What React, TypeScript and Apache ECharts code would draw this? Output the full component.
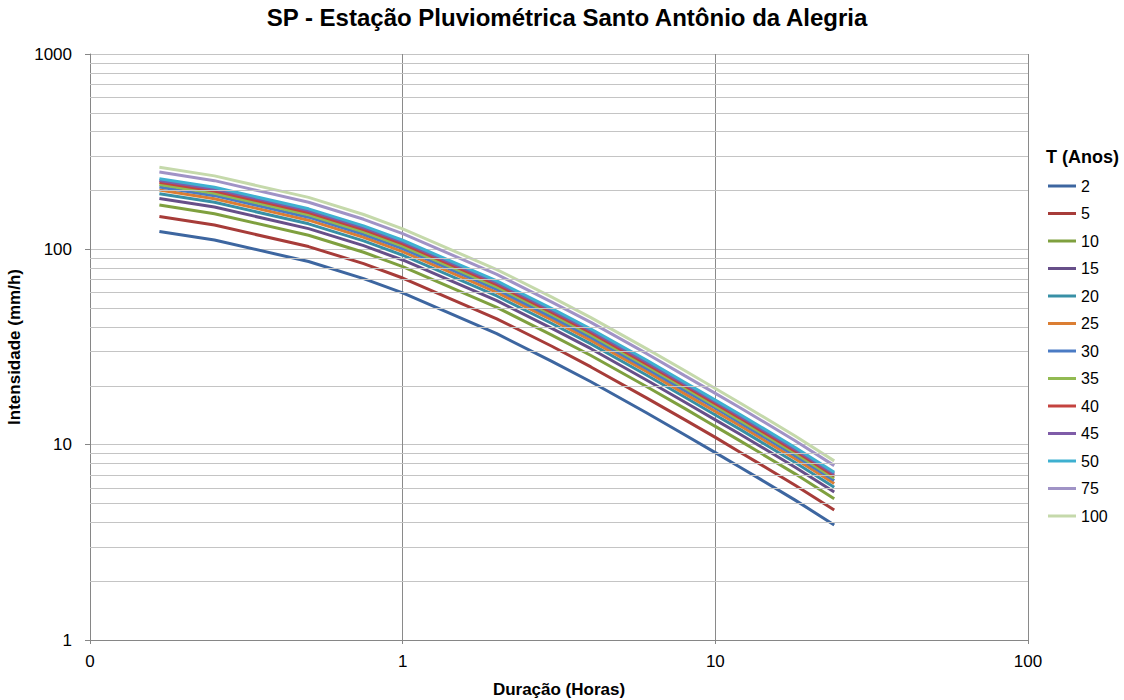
import React, { useEffect, useRef } from "react";
import * as echarts from "echarts";

// Durations (hours)
const durations = [0.1667, 0.25, 0.5, 0.75, 1, 2, 3, 4, 6, 8, 10, 12, 14, 18, 24];

// Intensities (mm/h) per return period T (years)
const t2 = [123.5, 111.6, 86.6, 70.8, 59.8, 37.0, 26.7, 21.0, 14.6, 11.2, 9.1, 7.67, 6.62, 5.2, 3.88];
const t5 = [147.3, 133.1, 103.3, 84.5, 71.3, 44.1, 31.9, 25.0, 17.4, 13.4, 10.9, 9.15, 7.9, 6.2, 4.63];
const t10 = [168.5, 152.2, 118.1, 96.6, 81.6, 50.5, 36.4, 28.6, 19.9, 15.3, 12.4, 10.46, 9.03, 7.09, 5.29];
const t15 = [182.2, 164.6, 127.7, 104.4, 88.2, 54.6, 39.4, 31.0, 21.5, 16.5, 13.4, 11.31, 9.76, 7.67, 5.72];
const t20 = [192.7, 174.1, 135.1, 110.4, 93.3, 57.7, 41.7, 32.8, 22.8, 17.5, 14.2, 11.97, 10.33, 8.11, 6.05];
const t25 = [201.1, 181.7, 141.0, 115.3, 97.4, 60.2, 43.5, 34.2, 23.8, 18.2, 14.8, 12.49, 10.78, 8.47, 6.32];
const t30 = [208.3, 188.3, 146.1, 119.4, 100.9, 62.4, 45.0, 35.4, 24.6, 18.9, 15.4, 12.94, 11.17, 8.77, 6.55];
const t35 = [214.5, 193.8, 150.4, 123.0, 103.9, 64.3, 46.4, 36.5, 25.4, 19.5, 15.8, 13.32, 11.5, 9.03, 6.74];
const t40 = [220.2, 199.0, 154.4, 126.2, 106.6, 66.0, 47.6, 37.4, 26.0, 20.0, 16.2, 13.68, 11.8, 9.27, 6.92];
const t45 = [225.3, 203.6, 158.0, 129.1, 109.1, 67.5, 48.7, 38.3, 26.6, 20.4, 16.6, 13.99, 12.07, 9.48, 7.08];
const t50 = [229.8, 207.7, 161.2, 131.8, 111.3, 68.9, 49.7, 39.1, 27.2, 20.8, 16.9, 14.27, 12.32, 9.68, 7.22];
const t75 = [248.6, 224.7, 174.3, 142.5, 120.4, 74.5, 53.7, 42.3, 29.4, 22.5, 18.3, 15.44, 13.33, 10.47, 7.81];
const t100 = [263.1, 237.7, 184.5, 150.8, 127.4, 78.8, 56.9, 44.7, 31.1, 23.9, 19.4, 16.34, 14.1, 11.08, 8.26];

const seriesNames = ["2", "5", "10", "15", "20", "25", "30", "35", "40", "45", "50", "75", "100"];
const seriesValues = [t2, t5, t10, t15, t20, t25, t30, t35, t40, t45, t50, t75, t100];
const seriesColors = [
  "#3d66a0", "#a73c39", "#7fa03f", "#674f89", "#3890a6", "#db7e33",
  "#4a7bc4", "#92ba52", "#c4433f", "#7f5ca8", "#3eb0d0", "#a093c6", "#c5d9ab",
];

// Minor grid values for the log y axis
const yMinorLines = [2, 3, 4, 5, 6, 7, 8, 9, 20, 30, 40, 50, 60, 70, 80, 90, 200, 300, 400, 500, 600, 700, 800, 900];

const FONT = "'Liberation Sans', Arial, sans-serif";

export default function App() {
  const ref = useRef<HTMLDivElement>(null);

  useEffect(() => {
    document.body.style.margin = "0";
    const chart = echarts.init(ref.current!, null, { renderer: "svg" });

    const lineSeries = seriesNames.map((name, i) => ({
      name,
      type: "line",
      data: durations.map((d, j) => [d, seriesValues[i][j]]),
      showSymbol: false,
      symbol: "none",
      smooth: false,
      z: 3,
      lineStyle: { width: 3, color: seriesColors[i] },
      itemStyle: { color: seriesColors[i] },
    }));

    chart.setOption({
      animation: false,
      backgroundColor: "#ffffff",
      textStyle: { fontFamily: FONT },
      title: [
        {
          text: "SP - Estação Pluviométrica Santo Antônio da Alegria",
          left: 567,
          textAlign: "center",
          top: 5,
          padding: 0,
          textStyle: { fontFamily: FONT, fontSize: 24, fontWeight: "bold", color: "#000" },
        },
        {
          text: "T (Anos)",
          left: 1046,
          top: 148,
          padding: 0,
          textStyle: { fontFamily: FONT, fontSize: 18, fontWeight: "bold", color: "#000" },
        },
      ],
      legend: {
        data: seriesNames,
        orient: "vertical",
        left: 1048,
        top: 178,
        icon: "rect",
        itemWidth: 28,
        itemHeight: 3,
        itemGap: 11.5,
        padding: 0,
        textStyle: { fontFamily: FONT, fontSize: 16, color: "#000" },
      },
      grid: { left: 90, right: 96, top: 54, bottom: 60, containLabel: false, outerBoundsMode: "none" },
      xAxis: {
        type: "log",
        logBase: 10,
        min: 0.1,
        max: 100,
        name: "Duração (Horas)",
        nameLocation: "middle",
        nameGap: 41,
        nameTextStyle: { fontFamily: FONT, fontSize: 17, fontWeight: "bold", color: "#000" },
        axisLine: { show: true, lineStyle: { color: "#868686", width: 1 } },
        axisTick: { show: true, length: 4, lineStyle: { color: "#868686" } },
        axisLabel: {
          fontFamily: FONT,
          fontSize: 17,
          color: "#000",
          margin: 13,
          formatter: (v: number) => (v < 0.5 ? "0" : String(Math.round(v))),
        },
        splitLine: { show: true, lineStyle: { color: "#8a8a8a", width: 1 } },
        minorTick: { show: false },
        minorSplitLine: { show: false },
      },
      yAxis: {
        type: "log",
        logBase: 10,
        min: 1,
        max: 1000,
        name: "Intensidade (mm/h)",
        nameLocation: "middle",
        nameGap: 64,
        nameRotate: 90,
        nameTextStyle: { fontFamily: FONT, fontSize: 17, fontWeight: "bold", color: "#000" },
        axisLine: { show: true, lineStyle: { color: "#868686", width: 1 } },
        axisTick: { show: true, length: 5, lineStyle: { color: "#868686" } },
        axisLabel: {
          fontFamily: FONT,
          fontSize: 17,
          color: "#000",
          margin: 18,
          formatter: (v: number) => String(Math.round(v)),
        },
        splitLine: { show: true, lineStyle: { color: "#c4c4c4", width: 1 } },
      },
      series: [
        {
          name: "__grid",
          type: "line",
          data: [],
          z: 1,
          silent: true,
          markLine: {
            silent: true,
            symbol: ["none", "none"],
            label: { show: false },
            emphasis: { disabled: true },
            lineStyle: { color: "#c4c4c4", width: 1, type: "solid" },
            data: yMinorLines.map((v) => ({ yAxis: v })),
          },
        },
        ...lineSeries,
      ],
    });

    return () => chart.dispose();
  }, []);

  return <div ref={ref} style={{ width: 1124, height: 700 }} />;
}
